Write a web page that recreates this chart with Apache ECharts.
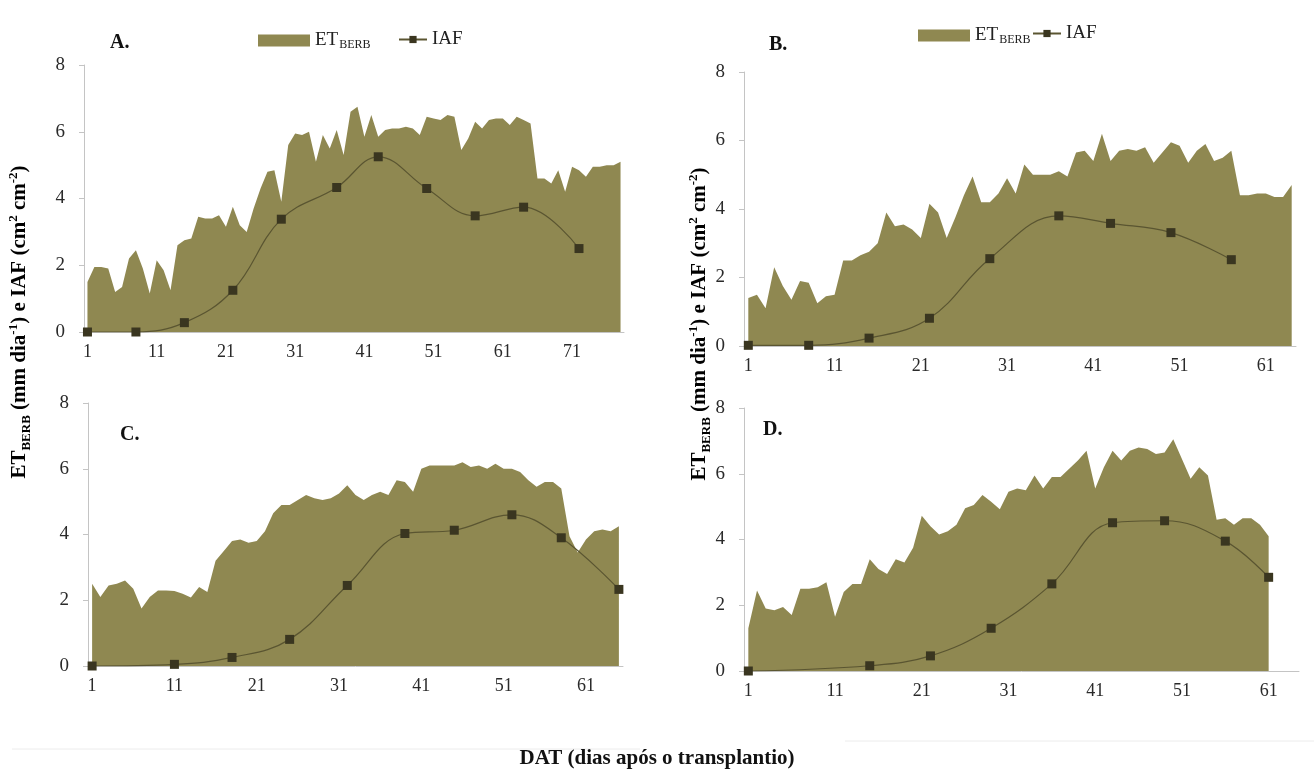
<!DOCTYPE html>
<html><head><meta charset="utf-8">
<script src="https://cdn.jsdelivr.net/npm/echarts@6/dist/echarts.min.js"></script>
<style>html,body{margin:0;padding:0;background:#fff}#c{width:1314px;height:778px}</style>
</head><body><div id="c"></div>
<script>
// ---- data ----
const daysA = Array.from({length: 78}, (_, i) => String(i + 1));
const daysB = Array.from({length: 64}, (_, i) => String(i + 1));
const daysC = Array.from({length: 65}, (_, i) => String(i + 1));
const daysD = Array.from({length: 64}, (_, i) => String(i + 1));

const etA = [1.5,1.95,1.95,1.9,1.2,1.35,2.2,2.45,1.9,1.15,2.15,1.85,1.25,2.6,2.75,2.8,3.45,3.4,3.4,3.5,
  3.15,3.75,3.2,3.0,3.7,4.3,4.8,4.85,3.9,5.6,5.95,5.9,6.0,5.1,5.9,5.5,6.05,5.3,6.6,6.75,
  5.85,6.5,5.85,6.05,6.1,6.1,6.15,6.1,5.9,6.45,6.4,6.35,6.5,6.45,5.45,5.8,6.3,6.1,6.35,6.4,
  6.4,6.2,6.45,6.35,6.25,4.6,4.6,4.45,4.85,4.2,4.95,4.85,4.65,4.95,4.95,5.0,5.0,5.1];
const etB = [1.4,1.5,1.1,2.3,1.75,1.35,1.9,1.85,1.25,1.45,1.5,2.5,2.5,2.65,2.75,3.0,3.9,3.5,3.55,3.4,
  3.15,4.15,3.9,3.15,3.75,4.4,4.95,4.2,4.2,4.45,4.9,4.45,5.3,5.0,5.0,5.0,5.1,4.95,5.65,5.7,
  5.4,6.2,5.4,5.7,5.75,5.7,5.8,5.35,5.65,5.95,5.85,5.35,5.7,5.9,5.4,5.5,5.7,4.4,4.4,4.45,
  4.45,4.35,4.35,4.7];
const etC = [2.5,2.1,2.45,2.5,2.6,2.35,1.75,2.1,2.3,2.3,2.28,2.2,2.08,2.4,2.25,3.2,3.5,3.8,3.85,3.75,
  3.8,4.1,4.65,4.9,4.9,5.05,5.2,5.1,5.05,5.1,5.25,5.5,5.2,5.05,5.2,5.3,5.2,5.65,5.6,5.3,
  6.0,6.1,6.1,6.1,6.1,6.2,6.05,6.1,6.0,6.15,6.0,6.0,5.9,5.65,5.45,5.6,5.6,5.4,3.95,3.45,
  3.85,4.1,4.15,4.1,4.25];
const etD = [1.3,2.45,1.9,1.85,1.95,1.7,2.5,2.5,2.55,2.7,1.65,2.4,2.65,2.65,3.4,3.1,2.95,3.4,3.3,3.75,
  4.72,4.4,4.15,4.25,4.45,4.95,5.05,5.35,5.15,4.92,5.45,5.55,5.5,5.95,5.55,5.9,5.9,6.15,6.4,6.7,
  5.55,6.2,6.7,6.4,6.7,6.8,6.75,6.6,6.65,7.05,6.45,5.85,6.2,5.95,4.6,4.65,4.45,4.65,4.65,4.45,
  4.1];

const iafDaysA = [1,8,15,22,29,37,43,50,57,64,72];
const iafA     = [0,0,0.28,1.25,3.38,4.33,5.25,4.3,3.48,3.74,2.5];
const iafDaysB = [1,8,15,22,29,37,43,50,57];
const iafB     = [0.02,0.02,0.23,0.81,2.55,3.8,3.58,3.31,2.52];
const iafDaysC = [1,11,18,25,32,39,45,52,58,65];
const iafC     = [0,0.05,0.26,0.81,2.45,4.03,4.13,4.6,3.9,2.33];
const iafDaysD = [1,15,22,29,36,43,49,56,61];
const iafD     = [0,0.16,0.46,1.3,2.65,4.51,4.57,3.95,2.85];

const yTicks = {min: 0, max: 8, interval: 2};
const panelLabels = ['A.', 'B.', 'C.', 'D.'];

// ---- styles ----
const SERIF = '"Liberation Serif", "DejaVu Serif", serif';
const FILL = '#8f8851';
const AXIS = '#c4c4c4';

const grids = [
  {left: 84, top: 65, width: 540, height: 267},
  {left: 744, top: 72, width: 552, height: 274},
  {left: 88, top: 403, width: 535, height: 263},
  {left: 744, top: 408, width: 555, height: 263}
];
const cats = [daysA, daysB, daysC, daysD];
const ets = [etA, etB, etC, etD];
const iafDays = [iafDaysA, iafDaysB, iafDaysC, iafDaysD];
const iafs = [iafA, iafB, iafC, iafD];

const xAxes = cats.map((c, i) => ({
  type: 'category', gridIndex: i, data: c, boundaryGap: true,
  axisLine: {lineStyle: {color: AXIS, width: 1}},
  axisTick: {interval: 9, length: 5, lineStyle: {color: AXIS}},
  axisLabel: {interval: 9, margin: 11, fontFamily: SERIF, fontSize: 18, color: '#2a2a2a'},
  splitLine: {show: false}
}));
const yAxes = grids.map((g, i) => ({
  type: 'value', gridIndex: i, min: yTicks.min, max: yTicks.max, interval: yTicks.interval,
  axisLine: {show: true, lineStyle: {color: AXIS, width: 1}},
  axisTick: {show: true, length: 5, lineStyle: {color: AXIS}},
  axisLabel: {margin: 19, fontFamily: SERIF, fontSize: 19, color: '#2a2a2a'},
  splitLine: {show: false}
}));
const series = [];
ets.forEach((e, i) => {
  series.push({
    name: 'ET', type: 'line', xAxisIndex: i, yAxisIndex: i, data: e,
    symbol: 'none', showSymbol: false, lineStyle: {width: 0, color: FILL},
    areaStyle: {color: FILL, opacity: 1}, itemStyle: {color: FILL}, z: 2
  });
});
iafs.forEach((v, i) => {
  series.push({
    name: 'IAF', type: 'line', xAxisIndex: i, yAxisIndex: i,
    data: iafDays[i].map((d, k) => [String(d), v[k]]),
    smooth: 0.4, symbol: 'rect', symbolSize: 9, showSymbol: true, showAllSymbol: true,
    lineStyle: {color: '#5a5531', width: 1.2}, itemStyle: {color: '#3a3620'}, z: 3
  });
});

const legText = {fontFamily: SERIF, fontSize: 19, color: '#222',
  rich: {a: {fontFamily: SERIF, fontSize: 19, color: '#222'},
         b: {fontFamily: SERIF, fontSize: 12, color: '#222', verticalAlign: 'bottom', padding: [9, 0, 0, 1]}}};
function etLegend(left, top) {
  return {data: [{name: 'ET', icon: 'rect'}], left, top, itemWidth: 52, itemHeight: 12, itemGap: 4,
    selectedMode: false, formatter: () => '{a|ET}{b|BERB}', textStyle: legText, padding: 0};
}
function iafLegend(left, top) {
  return {data: ['IAF'], left, top, itemWidth: 28, itemHeight: 9, selectedMode: false,
    textStyle: {fontFamily: SERIF, fontSize: 19, color: '#222'}, padding: 0};
}
const legends = [etLegend(258, 31), iafLegend(398, 30), etLegend(918, 26), iafLegend(1032, 24)];

const ttl = {fontFamily: SERIF, fontSize: 21, fontWeight: 'bold', color: '#111'};
const ttlSm = {fontFamily: SERIF, fontSize: 13, fontWeight: 'bold', color: '#111'};
const yTitleText = '{m|ET}{sub|BERB}{m| (mm dia}{sup|-1}{m|) e IAF (cm}{sup|2}{m| cm}{sup|-2}{m|)}';
const richT = {
  m: Object.assign({lineHeight: 26}, ttl),
  sub: Object.assign({verticalAlign: 'bottom', padding: [9, 0, 0, 0]}, ttlSm),
  sup: Object.assign({verticalAlign: 'top', padding: [0, 0, 9, 0]}, ttlSm)
};
function yTitle(x, y) {
  return {type: 'text', x, y, rotation: Math.PI / 2,
    style: {text: yTitleText, rich: richT, align: 'center', verticalAlign: 'middle'}};
}
const labelPos = [[110, 33], [769, 35], [120, 425], [763, 420]];
const frameLine = {stroke: '#ececec', lineWidth: 1};
const graphic = [
  {type: 'line', shape: {x1: 12, y1: 749, x2: 640, y2: 749}, style: frameLine, silent: true},
  {type: 'line', shape: {x1: 845, y1: 741, x2: 1314, y2: 741}, style: frameLine, silent: true},
  yTitle(20, 322), yTitle(700, 324),
  {type: 'text', left: 'center', top: 748,
   style: {text: 'DAT (dias após o transplantio)', fontFamily: SERIF, fontSize: 21, fontWeight: 'bold', fill: '#111'}}
].concat(panelLabels.map((t, i) => ({type: 'text', left: labelPos[i][0], top: labelPos[i][1],
  style: {text: t, fontFamily: SERIF, fontSize: 20, fontWeight: 'bold', fill: '#111'}})));

const chart = echarts.init(document.getElementById('c'), null, {renderer: 'canvas'});
chart.setOption({
  animation: false, backgroundColor: '#fff',
  grid: grids, xAxis: xAxes, yAxis: yAxes, series, legend: legends, graphic
});
</script></body></html>
